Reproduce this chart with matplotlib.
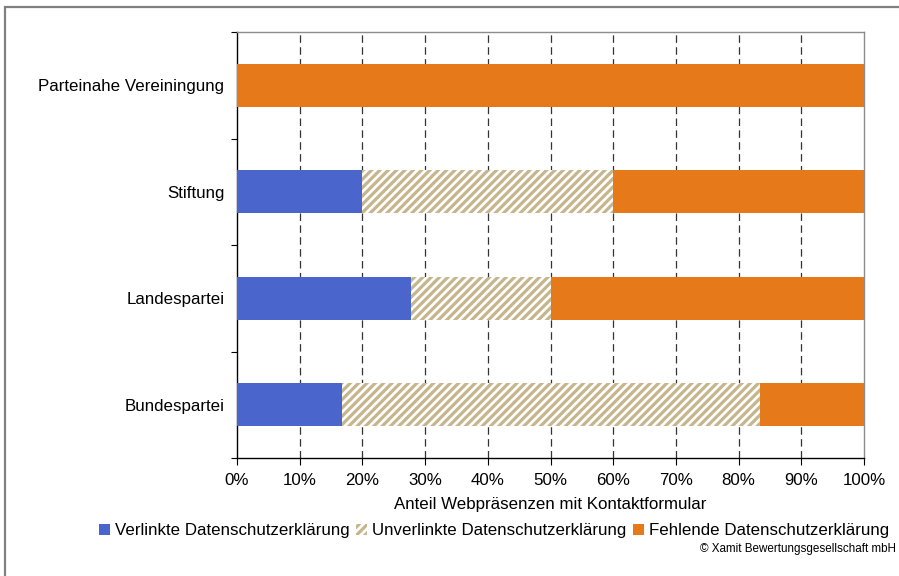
import numpy as np
import matplotlib.pyplot as plt
from matplotlib.patches import Patch, Rectangle

plt.rcParams["font.family"] = ["Liberation Sans", "DejaVu Sans"]
plt.rcParams["hatch.linewidth"] = 2.3

CATEGORIES = ["Bundespartei", "Landespartei", "Stiftung", "Parteinahe Vereiningung"]
VERLINKT = [16.7, 27.8, 20.0, 0.0]
UNVERLINKT = [66.7, 22.2, 40.0, 0.0]
FEHLEND = [16.6, 50.0, 40.0, 100.0]

SERIES = [
    ("Verlinkte Datenschutzerklärung", VERLINKT),
    ("Unverlinkte Datenschutzerklärung", UNVERLINKT),
    ("Fehlende Datenschutzerklärung", FEHLEND),
]

BLUE = "#4A66CC"
HATCH = "#C6B68E"
ORANGE = "#E67A1A"
FS = 12.2

fig = plt.figure(figsize=(8.99, 5.76), dpi=100)
ax = fig.add_axes([237 / 899, 1 - 458 / 576, 627 / 899, 426 / 576])

y = np.arange(len(CATEGORIES))
h = 0.4
left = np.zeros(len(CATEGORIES))

ax.barh(y, VERLINKT, left=left, height=h, color=BLUE, linewidth=0, zorder=3)
left += np.array(VERLINKT)
ax.barh(y, UNVERLINKT, left=left, height=h, facecolor="white", edgecolor=HATCH,
        hatch="////", linewidth=0, zorder=3)
left += np.array(UNVERLINKT)
ax.barh(y, FEHLEND, left=left, height=h, color=ORANGE, linewidth=0, zorder=3)

ax.set_xlim(0, 100)
ax.set_ylim(-0.5, len(CATEGORIES) - 0.5)
ax.set_xticks(np.arange(0, 101, 10))
ax.set_xticklabels([f"{v}%" for v in range(0, 101, 10)], fontsize=FS)
ax.set_yticks(y)
ax.set_yticklabels(CATEGORIES, fontsize=FS)
ax.set_yticks(np.arange(-0.5, len(CATEGORIES), 1), minor=True)
ax.tick_params(axis="y", which="major", length=0, pad=9)
ax.tick_params(axis="y", which="minor", length=4, width=0.8, direction="out")
ax.tick_params(axis="x", length=5, width=0.8, direction="out", pad=6)

# dashed vertical grid at every 10 %
for v in range(10, 100, 10):
    ax.axvline(v, color="#333333", lw=0.9, linestyle=(0, (6, 3.5)), zorder=1)

ax.spines["left"].set_color("black")
ax.spines["bottom"].set_color("black")
ax.spines["top"].set_color("#8c8c8c")
ax.spines["right"].set_color("#8c8c8c")
for s in ax.spines.values():
    s.set_linewidth(1.0)

ax.set_xlabel("Anteil Webpräsenzen mit Kontaktformular", fontsize=FS, labelpad=6)

handles = [
    Patch(facecolor=BLUE, edgecolor="none"),
    Patch(facecolor="white", edgecolor=HATCH, hatch="////", linewidth=0),
    Patch(facecolor=ORANGE, edgecolor="none"),
]
fig.legend(handles, [s[0] for s in SERIES], loc="center", ncol=3, frameon=False,
           bbox_to_anchor=(494 / 899, 1 - 531 / 576), fontsize=FS,
           handlelength=0.65, handleheight=0.65, handletextpad=0.3,
           columnspacing=0.4, borderpad=0)

fig.text(896 / 899, 1 - 549 / 576, "© Xamit Bewertungsgesellschaft mbH",
         ha="right", va="center", fontsize=8.4)

# outer frame
fig.patches.append(Rectangle((5 / 899, -0.1), 1.2, 1 - 7 / 576 + 0.1,
                             transform=fig.transFigure, fill=False,
                             edgecolor="#808080", linewidth=1.6))

fig.savefig("out.png", dpi=100)
